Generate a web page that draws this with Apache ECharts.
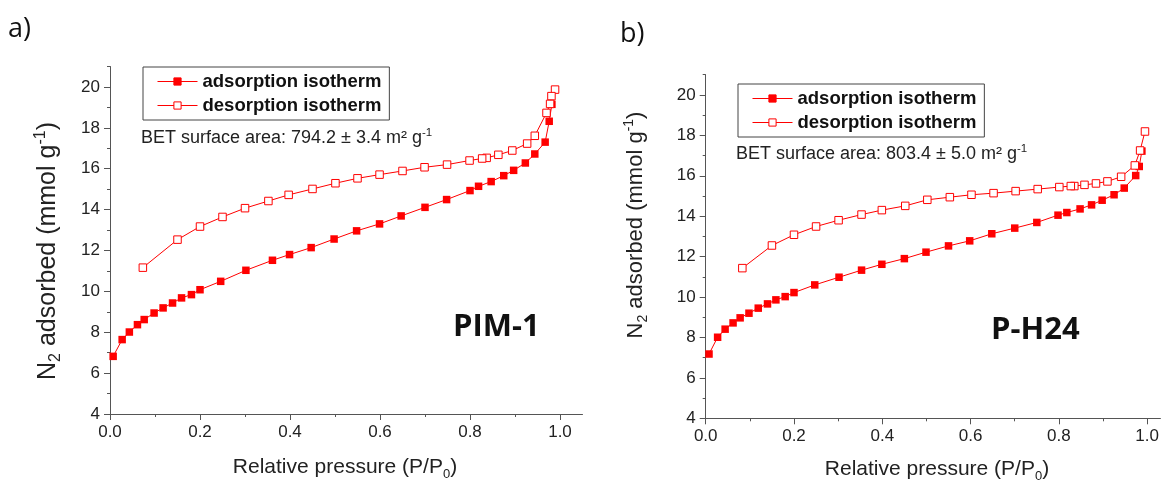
<!DOCTYPE html>
<html>
<head>
<meta charset="utf-8">
<script src="https://cdn.jsdelivr.net/npm/echarts@6/dist/echarts.min.js"></script>
<style>html,body{margin:0;padding:0;background:#fff}#c{width:1162px;height:482px}</style>
</head>
<body>
<div id="c"></div>
<script>
// ---- data ----
const pimAdsX = [0.007,0.027,0.043,0.061,0.076,0.098,0.118,0.139,0.159,0.181,0.200,0.246,0.302,0.361,0.399,0.447,0.498,0.548,0.599,0.647,0.700,0.748,0.800,0.819,0.847,0.875,0.897,0.923,0.944,0.967,0.976,0.982];
const pimAdsY = [6.82,7.64,8.01,8.37,8.62,8.94,9.19,9.43,9.68,9.84,10.08,10.49,11.03,11.52,11.80,12.14,12.56,12.96,13.30,13.69,14.11,14.49,14.93,15.14,15.37,15.66,15.92,16.28,16.72,17.30,18.32,19.15];
const pimDesX = [0.989,0.981,0.978,0.970,0.944,0.927,0.894,0.863,0.837,0.827,0.799,0.749,0.699,0.650,0.599,0.550,0.501,0.450,0.397,0.352,0.300,0.250,0.200,0.150,0.073];
const pimDesY = [19.87,19.55,19.17,18.73,17.61,17.23,16.89,16.68,16.53,16.50,16.40,16.20,16.07,15.89,15.71,15.53,15.29,15.01,14.72,14.42,14.07,13.64,13.17,12.53,11.16];

const ph24AdsX = [0.0075,0.027,0.044,0.062,0.078,0.098,0.119,0.140,0.159,0.180,0.200,0.247,0.302,0.353,0.399,0.450,0.499,0.550,0.598,0.648,0.700,0.750,0.798,0.818,0.848,0.874,0.898,0.925,0.948,0.974,0.982,0.988];
const ph24AdsY = [7.18,8.01,8.41,8.72,8.97,9.20,9.45,9.66,9.86,10.02,10.22,10.60,10.98,11.33,11.62,11.90,12.22,12.53,12.78,13.13,13.41,13.69,14.05,14.18,14.36,14.56,14.79,15.06,15.39,16.01,16.46,17.22];
const ph24DesX = [0.995,0.984,0.972,0.941,0.910,0.884,0.858,0.835,0.827,0.801,0.752,0.702,0.652,0.602,0.553,0.502,0.452,0.399,0.353,0.301,0.250,0.200,0.150,0.083];
const ph24DesY = [18.19,17.25,16.51,15.95,15.72,15.62,15.55,15.49,15.49,15.44,15.34,15.24,15.14,15.06,14.94,14.81,14.51,14.30,14.08,13.80,13.49,13.08,12.55,11.43];

const xMajorTicks = [0,0.2,0.4,0.6,0.8,1.0];
const xMinorTicks = [0.1,0.3,0.5,0.7,0.9];
const yMajorTicks = [4,6,8,10,12,14,16,18,20];
const yMinorTicks = [5,7,9,11,13,15,17,19,21];
const seriesNames = ['adsorption isotherm','desorption isotherm'];
const panelLabels = ['a)','b)'];
const sampleNames = ['PIM-1','P-H24'];
const betTexts = ['BET surface area: 794.2 ± 3.4 m² g','BET surface area: 803.4 ± 5.0 m² g'];
// ---------------------------------------------

const pairs = (xs, ys) => xs.map((x, i) => [x, ys[i]]);
const FONT = "'Liberation Sans', Arial, sans-serif";
const RED = '#ff0000';
const AX = '#555';
const TXT = '#222';

function xAxes(grid, max) {
  return [
    { type:'value', gridIndex:grid, min:0, max:max, position:'bottom',
      axisLine:{show:true, lineStyle:{color:AX, width:1}},
      axisTick:{show:true, length:6, lineStyle:{color:AX}, customValues:xMajorTicks},
      axisLabel:{show:true, color:TXT, fontFamily:FONT, fontSize:17, margin:10, customValues:xMajorTicks, formatter:v=>v.toFixed(1)},
      splitLine:{show:false} },
    { type:'value', gridIndex:grid, min:0, max:max, position:'bottom',
      axisLine:{show:false},
      axisTick:{show:true, length:3, lineStyle:{color:AX}, customValues:xMinorTicks},
      axisLabel:{show:false}, splitLine:{show:false} }
  ];
}
function yAxes(grid) {
  return [
    { type:'value', gridIndex:grid, min:4, max:21, position:'left',
      axisLine:{show:true, lineStyle:{color:AX, width:1}},
      axisTick:{show:true, length:6, lineStyle:{color:AX}, customValues:yMajorTicks},
      axisLabel:{show:true, color:TXT, fontFamily:FONT, fontSize:17, margin:10, customValues:yMajorTicks},
      splitLine:{show:false} },
    { type:'value', gridIndex:grid, min:4, max:21, position:'left',
      axisLine:{show:false},
      axisTick:{show:true, length:3, lineStyle:{color:AX}, customValues:yMinorTicks},
      axisLabel:{show:false}, splitLine:{show:false} }
  ];
}
function ser(name, data, xi, yi, open) {
  return {
    name:name, type:'line', xAxisIndex:xi, yAxisIndex:yi, data:data,
    symbol:'rect', symbolSize:7.5, showAllSymbol:true,
    lineStyle:{color:RED, width:1},
    itemStyle: open ? {color:'#ffffff', borderColor:RED, borderWidth:1} : {color:RED, borderColor:RED, borderWidth:0},
    emphasis:{disabled:true}, z: open ? 3 : 2
  };
}
function legend(left, top) {
  return {
    left:left, top:top, orient:'vertical', data:seriesNames,
    borderColor:'#444', borderWidth:1, padding:[5,8,5,14],
    itemWidth:40, itemHeight:9, itemGap:5, itemStyle:{borderWidth:1},
    lineStyle:{width:1},
    textStyle:{fontFamily:FONT, fontWeight:'bold', fontSize:18.5, color:'#111', padding:[0,0,0,0]},
    selectedMode:false
  };
}
function yTitle(x, y, size) {
  return { type:'text', x:x, y:y, rotation:Math.PI/2,
    style:{ text:'{n|N}{s|2}{n| adsorbed (mmol g}{p|-1}{n|)}', align:'center', verticalAlign:'middle',
      rich:{ n:{fontFamily:FONT, fontSize:size, fill:TXT, lineHeight:size+6},
             s:{fontFamily:FONT, fontSize:Math.round(size*0.62), fill:TXT, lineHeight:Math.round(size*0.62), verticalAlign:'bottom'},
             p:{fontFamily:FONT, fontSize:Math.round(size*0.62), fill:TXT, lineHeight:Math.round(size*0.62), verticalAlign:'top'} } } };
}
function xTitle(x, y) {
  return { type:'text', x:x, y:y,
    style:{ text:'{n|Relative pressure (P/P}{s|0}{n|)}', align:'center', verticalAlign:'middle',
      rich:{ n:{fontFamily:FONT, fontSize:21, fill:TXT, lineHeight:27},
             s:{fontFamily:FONT, fontSize:13, fill:TXT, lineHeight:13, verticalAlign:'bottom'} } } };
}
function bet(x, y, t) {
  return { type:'text', x:x, y:y,
    style:{ text:'{n|' + t + '}{p|-1}', align:'left', verticalAlign:'middle',
      rich:{ n:{fontFamily:FONT, fontSize:18, fill:TXT, lineHeight:23},
             p:{fontFamily:FONT, fontSize:11.5, fill:TXT, lineHeight:11.5, verticalAlign:'top'} } } };
}
function big(x, y, t) {
  return { type:'text', x:x, y:y,
    style:{ text:t, align:'left', verticalAlign:'middle', font:"bold 31px 'Open Sans', sans-serif", fill:'#111' } };
}

const chart = echarts.init(document.getElementById('c'), null, {renderer:'canvas'});
chart.setOption({
  animation:false,
  backgroundColor:'#ffffff',
  grid:[
    {left:110, top:66.5, width:472.5, height:347.5},
    {left:705.7, top:74.7, width:456.6, height:343.6}
  ],
  xAxis:[...xAxes(0, 1.05), ...xAxes(1, 1.03)],
  yAxis:[...yAxes(0), ...yAxes(1)],
  legend:[legend(143, 67), legend(738, 84)],
  series:[
    ser(seriesNames[0], pairs(pimAdsX, pimAdsY), 0, 0, false),
    ser(seriesNames[1], pairs(pimDesX, pimDesY), 0, 0, true),
    ser(seriesNames[0], pairs(ph24AdsX, ph24AdsY), 2, 2, false),
    ser(seriesNames[1], pairs(ph24DesX, ph24DesY), 2, 2, true)
  ],
  graphic:[
    { type:'text', x:8, y:29, style:{text:panelLabels[0], align:'left', verticalAlign:'middle', font:"27px 'Open Sans', sans-serif", fill:'#111'} },
    { type:'text', x:620, y:34, style:{text:panelLabels[1], align:'left', verticalAlign:'middle', font:"27px 'Open Sans', sans-serif", fill:'#111'} },
    yTitle(48, 251, 25),
    yTitle(636, 225, 22),
    xTitle(345, 467),
    xTitle(937, 469),
    bet(141, 138, betTexts[0]),
    bet(736, 154, betTexts[1]),
    big(453, 327, sampleNames[0]),
    big(991, 330, sampleNames[1])
  ]
});
</script>
</body>
</html>
